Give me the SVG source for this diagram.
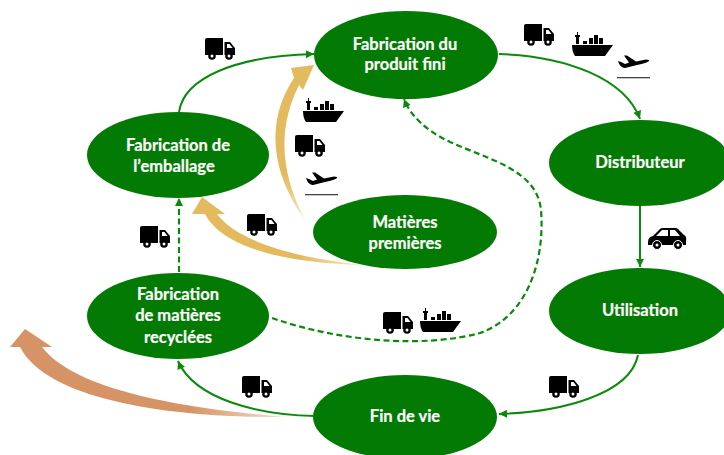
<svg xmlns="http://www.w3.org/2000/svg" width="724" height="455" viewBox="0 0 724 455">
<style>
.node{fill:#037a03}
.lbl{font-family:"Lato","Open Sans","Liberation Sans",sans-serif;font-weight:700;font-size:16.500px;fill:#fff;text-anchor:middle;stroke:#fff;stroke-width:.2}
.c{fill:none;stroke:#0a8a0a;stroke-width:2}
.d{stroke-width:2.200;stroke-dasharray:6 3.500}
.ic{fill:#000}
.w{fill:#fff}
</style>
<defs>
<marker id="ah" markerUnits="userSpaceOnUse" markerWidth="10" markerHeight="10" refX="9" refY="5" orient="auto"><path d="M1 1 L9 5 L1 9 Z" fill="#0a8a0a"/></marker>
<linearGradient id="g1" gradientUnits="userSpaceOnUse" x1="304" y1="218" x2="285" y2="175"><stop offset="0" stop-color="#e3bb5e" stop-opacity=".4"/><stop offset="1" stop-color="#e3bb5e"/></linearGradient>
<linearGradient id="g2" gradientUnits="userSpaceOnUse" x1="365" y1="265" x2="300" y2="255"><stop offset="0" stop-color="#e3bb5e" stop-opacity=".3"/><stop offset="1" stop-color="#e3bb5e"/></linearGradient>
<linearGradient id="g3" gradientUnits="userSpaceOnUse" x1="285" y1="417" x2="190" y2="408"><stop offset="0" stop-color="#d69365" stop-opacity=".3"/><stop offset="1" stop-color="#d69365"/></linearGradient>
<g id="truck">
<path class="ic" d="M0 2 Q0 0 2 0 H18 V17 H0 Z"/>
<path class="ic" d="M19.500 4 H25 L30 10 V17 H19.500 Z"/>
<path class="w" d="M22 6 H24.500 L27.500 10 H22 Z"/>
<circle class="ic" cx="7" cy="18" r="3.800"/><circle class="w" cx="7" cy="18" r="1.500"/>
<circle class="ic" cx="24" cy="18" r="3.800"/><circle class="w" cx="24" cy="18" r="1.500"/>
</g>
<g id="ship">
<path class="ic" d="M0 13 H41 L33 24 H3 Q0 20 0 13 Z"/>
<path class="ic" d="M3 3 H8 V5 H7 V12 H4 V5 H3 Z M5 0 H6 V3 H5 Z"/>
<path class="ic" d="M11 9 H15 V12 H11 Z M17 6 H21 V12 H17 Z M22 3 H26 V12 H22 Z M27 6 H31 V12 H27 Z"/>
</g>
<g id="plane">
<path class="ic" d="M1 6 L4 7 L8 9 L12 7.500 L7 0.500 L10 0.500 L19 6.500 L29 4.500 Q33 4.500 32 6 Q30 8 20 10 L8 13 Q3 13 1 6 Z"/>
<rect x="0" y="22" width="33" height="1.300" fill="#444"/>
</g>
<g id="car">
<path class="ic" d="M0 14 Q0 9 5 8 L12 1 Q13 0 15 0 H27 Q29 0 30 1 L36 7 Q39 8 38 14 V17 H0 Z"/>
<path class="w" d="M8 8 L14 2 H20 V8 Z M22 2 H27 L32 8 H22 Z"/>
<circle class="ic" cx="9" cy="17" r="4.500" stroke="#fff"/><circle class="w" cx="9" cy="17" r="1.500"/>
<circle class="ic" cx="30" cy="17" r="4.500" stroke="#fff"/><circle class="w" cx="30" cy="17" r="1.500"/>
</g>
</defs>
<rect width="724" height="455" fill="#fff"/>
<g id="connectors">
<path class="c" marker-end="url(#ah)" d="M179 112 C184 78 235 56 314 54"/>
<path class="c" marker-end="url(#ah)" d="M499 54 C565 56 625 78 640 119"/>
<path class="c" marker-end="url(#ah)" d="M640 205 V267"/>
<path class="c" marker-end="url(#ah)" d="M638 355 C630 395 560 412 499 414"/>
<path class="c" marker-end="url(#ah)" d="M315 416 C260 415 195 400 178 361"/>
<path class="c d" marker-end="url(#ah)" d="M179 272 V198"/>
<path class="c d" marker-end="url(#ah)" d="M272 318 C340 342 425 348 480 333 C528 316 545 260 541 210 C537 170 490 160 450 142 C425 130 410 115 404 99"/>
<path fill="url(#g1)" d="M304 218 C282 188 258 132 294 78 L291 68 L314 65 L303 90 L299 85 C274 135 285 180 304 218 Z"/>
<path fill="url(#g2)" d="M365 265 C300 264 225 252 205 214 L192 214 L202 197 L225 214 L217 214 C240 245 310 260 365 265 Z"/>
<path fill="url(#g3)" d="M285 417 C190 418 50 405 20 347 L10 347 L25 329 L52 347 L42 347 C75 390 180 408 285 417 Z"/>
</g>
<g id="icons">
<use href="#truck" x="205" y="38"/>
<use href="#truck" x="524" y="24"/>
<use href="#ship" x="572" y="32"/>
<use href="#plane" x="617" y="55"/>
<use href="#ship" x="303" y="98"/>
<use href="#truck" x="295" y="135"/>
<use href="#plane" x="305" y="172"/>
<use href="#truck" x="247" y="214"/>
<use href="#truck" x="140" y="226"/>
<use href="#truck" x="383" y="312"/>
<use href="#ship" x="420" y="308"/>
<use href="#truck" x="242" y="376"/>
<use href="#truck" x="549" y="376"/>
<use href="#car" x="648" y="228"/>
</g>
<g id="n-produit"><ellipse class="node" cx="406" cy="55" rx="92" ry="44"/><text class="lbl" x="405" y="50">Fabrication du</text><text class="lbl" x="405" y="70">produit fini</text></g>
<g id="n-emballage"><ellipse class="node" cx="178" cy="155" rx="91" ry="43"/><text class="lbl" x="178" y="151">Fabrication de</text><text class="lbl" x="174" y="172">l’emballage</text></g>
<g id="n-matieres"><ellipse class="node" cx="405" cy="232" rx="92" ry="37"/><text class="lbl" x="405" y="228">Matières</text><text class="lbl" x="405" y="249">premières</text></g>
<g id="n-distributeur"><ellipse class="node" cx="640" cy="163" rx="91" ry="43"/><text class="lbl" x="640" y="168">Distributeur</text></g>
<g id="n-utilisation"><ellipse class="node" cx="640" cy="311" rx="91" ry="43"/><text class="lbl" x="640" y="316">Utilisation</text></g>
<g id="n-findevie"><ellipse class="node" cx="405" cy="417" rx="92" ry="42"/><text class="lbl" x="405" y="422">Fin de vie</text></g>
<g id="n-recyclees"><ellipse class="node" cx="178" cy="316" rx="91" ry="43"/><text class="lbl" x="178" y="300">Fabrication</text><text class="lbl" x="178" y="321">de matières</text><text class="lbl" x="178" y="343">recyclées</text></g>
</svg>
